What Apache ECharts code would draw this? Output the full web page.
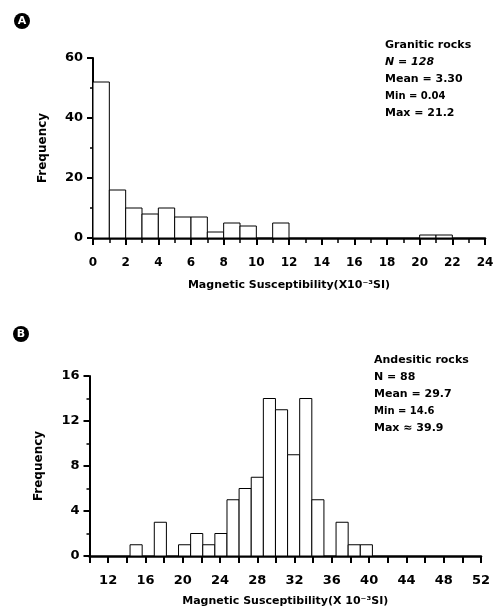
<!DOCTYPE html>
<html>
<head>
<meta charset="utf-8">
<script src="https://cdn.jsdelivr.net/npm/echarts@6/dist/echarts.min.js"></script>
<style>html,body{margin:0;padding:0;background:#fff}#c{width:502px;height:609px}</style>
</head>
<body>
<div id="c"></div>
<script>
// Panel A: granitic rocks (bins of width 1, x10^-3 SI)
const graniteBinEdges = [0,1,2,3,4,5,6,7,8,9,10,11,12,13,14,15,16,17,18,19,20,21,22,23,24];
const graniteCounts   = [52,16,10,8,10,7,7,2,5,4,0,5,0,0,0,0,0,0,0,0,1,1,0,0];
const graniteStats = ['Granitic rocks', 'N = 128', 'Mean = 3.30', 'Min = 0.04', 'Max = 21.2'];

// Panel B: andesitic rocks
const andesiteBinEdges = [14.35,15.65,16.95,18.25,19.55,20.85,22.15,23.45,24.75,26.05,27.35,28.65,29.95,31.25,32.55,33.85,35.15,36.45,37.75,39.05,40.35];
const andesiteCounts   = [1,0,3,0,1,2,1,2,5,6,7,14,13,9,14,5,0,3,1,1];
const andesiteStats = ['Andesitic rocks', 'N = 88', 'Mean = 29.7', 'Min = 14.6', 'Max \u2248 39.9'];

const FONT = 'DejaVu Sans';

function toData(edges, counts){
  return counts.map((c,i)=>[edges[i], edges[i+1], c]);
}
function renderBar(params, api){
  const x0 = api.value(0), x1 = api.value(1), y = api.value(2);
  if (!y) return null;
  const p0 = api.coord([x0, y]);
  const p1 = api.coord([x1, 0]);
  return {type:'rect', shape:{x:p0[0], y:p0[1], width:p1[0]-p0[0], height:p1[1]-p0[1]},
          style:{fill:'#fff', stroke:'#000', lineWidth:1}};
}
function xAxisCfg(idx, min, max, interval, name, labelSize, gap, margin, minor, labelFmt){
  return {
    type:'value', gridIndex:idx, min:min, max:max, interval:interval,
    name:name, nameLocation:'middle', nameGap:gap,
    nameTextStyle:{fontFamily:FONT, fontWeight:'bold', fontSize:11, color:'#000'},
    axisLine:{show:true, onZero:false, lineStyle:{color:'#000', width:2.5}},
    axisTick:{show:true, length:7, lineStyle:{color:'#000', width:2}},
    minorTick:{show:minor, splitNumber:2, length:5, lineStyle:{color:'#000', width:1.5}},
    axisLabel:{fontFamily:FONT, fontWeight:'bold', fontSize:labelSize, color:'#000', margin:margin,
               showMinLabel:true, showMaxLabel:true, hideOverlap:false, interval:0,
               formatter:labelFmt},
    splitLine:{show:false}
  };
}
function yAxisCfg(idx, max, interval, gap){
  return {
    type:'value', gridIndex:idx, min:0, max:max, interval:interval,
    name:'Frequency', nameLocation:'middle', nameGap:gap,
    nameTextStyle:{fontFamily:FONT, fontWeight:'bold', fontSize:12, color:'#000'},
    axisLine:{show:true, lineStyle:{color:'#000', width:2}},
    axisTick:{show:true, length:6, lineStyle:{color:'#000', width:2}},
    minorTick:{show:true, splitNumber:2, length:3, lineStyle:{color:'#000', width:1.5}},
    axisLabel:{fontFamily:FONT, fontWeight:'bold', fontSize:13, color:'#000', margin:10},
    splitLine:{show:false}
  };
}
function statsText(lines, x, y, italicN){
  return lines.map((t,i)=>({
    type:'text', left:x, top:y + i*17,
    style:{text:t, fontFamily:FONT, fontWeight:'bold', fontSize:(i===3?10:11),
           fontStyle:(italicN && i===1)?'italic':'normal', fill:'#000'}
  }));
}
function badge(letter, cx, cy){
  return [
    {type:'circle', shape:{cx:cx, cy:cy, r:8}, style:{fill:'#000'}},
    {type:'text', x:cx, y:cy, style:{text:letter, fontFamily:FONT, fontWeight:'bold', fontSize:11,
      fill:'#fff', align:'center', verticalAlign:'middle'}}
  ];
}

const chart = echarts.init(document.getElementById('c'), null, {renderer:'canvas'});
chart.setOption({
  backgroundColor:'#fff',
  animation:false,
  grid:[
    {left:93, right:17, top:58, bottom:371},
    {left:89.5, right:21, top:376, bottom:53}
  ],
  xAxis:[
    xAxisCfg(0, 0, 24, 2, 'Magnetic Susceptibility(X10\u207B\u00B3SI)', 12, 42, 19, true,
             (v)=>String(v)),
    xAxisCfg(1, 10, 52, 2, 'Magnetic Susceptibility(X 10\u207B\u00B3SI)', 13, 40, 18, false,
             (v)=> (v % 4 === 0) ? String(v) : '')
  ],
  yAxis:[
    yAxisCfg(0, 60, 20, 44),
    yAxisCfg(1, 16, 4, 45)
  ],
  series:[
    {type:'custom', xAxisIndex:0, yAxisIndex:0, renderItem:renderBar,
     encode:{x:[0,1], y:2}, data:toData(graniteBinEdges, graniteCounts)},
    {type:'custom', xAxisIndex:1, yAxisIndex:1, renderItem:renderBar,
     encode:{x:[0,1], y:2}, data:toData(andesiteBinEdges, andesiteCounts)}
  ],
  graphic:[].concat(
    badge('A', 22, 21),
    badge('B', 21, 334),
    statsText(graniteStats, 385, 40, true),
    statsText(andesiteStats, 374, 355, false)
  )
});
</script>
</body>
</html>
